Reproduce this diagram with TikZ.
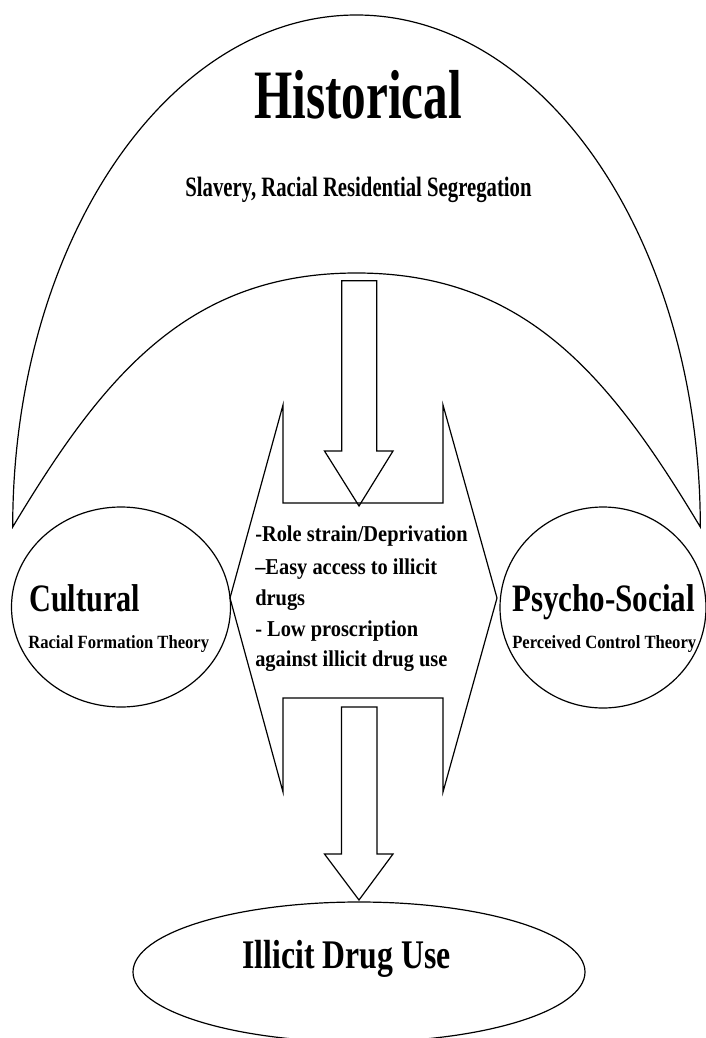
\documentclass[tikz,border=0pt]{standalone}
\usepackage{fontspec}
\setmainfont{Liberation Serif}
\usepackage{graphicx}
\usetikzlibrary{shapes.geometric}
\newcommand\sqtext[3]{{\fontsize{#1}{#1}\selectfont\scalebox{#2}[1]{#3}}}
\tikzset{
  outline/.style={draw=black, line width=0.9pt, line join=miter},
  circ/.style={draw=black, ellipse, inner sep=0pt, line width=0.9pt},
  txt/.style={inner sep=0pt, font=\bfseries, text=black},
}
\begin{document}
\begin{tikzpicture}[x=0.75pt,y=0.75pt]
\useasboundingbox (0,0) rectangle (706,-1038);
% historical block arc
\draw[outline] (12.7,-527) arc[start angle=180,end angle=0,x radius=343.8,y radius=512]
  .. controls (610.3,-377) and (526,-273) .. (356.5,-273)
  .. controls (187,-273) and (102.7,-377) .. (12.7,-527) -- cycle;
% side circles
\node[circ, minimum width=164.25pt, minimum height=150pt] (cultural) at (121,-607) {};
\node[circ, minimum width=154.5pt, minimum height=150.75pt] (psycho) at (603,-607.5) {};
% central shape
\draw[outline] (283,-405) -- (283,-503) -- (443,-503) -- (443,-405) -- (497,-598)
  -- (443,-792) -- (443,-698) -- (283,-698) -- (283,-792) -- (230,-598) -- cycle;
% top block arrow
\draw[outline] (341.7,-280.7) -- (376.7,-280.7) -- (376.7,-451) -- (393,-451)
  -- (359,-506) -- (324.5,-451) -- (341.7,-451) -- cycle;
% bottom block arrow
\draw[outline] (341.5,-707) -- (377,-707) -- (377,-854) -- (393,-854)
  -- (359,-900) -- (324.5,-854) -- (341.5,-854) -- cycle;
% outcome ellipse
\node[circ, minimum width=339pt, minimum height=105pt] (drug) at (359,-972) {};
% texts
\node[txt, anchor=base] (hist) at (358,-118.3) {\sqtext{52}{0.71}{Historical}};
\node[txt, anchor=base] (slav) at (358.5,-196.7) {\sqtext{21}{0.74}{Slavery, Racial Residential Segregation}};
\node[txt, anchor=base west] (cult) at (29,-611.7) {\sqtext{29.1}{0.78}{Cultural}};
\node[txt, anchor=base west] (rft) at (28,-648.3) {\sqtext{14}{0.89}{Racial Formation Theory}};
\node[txt, anchor=base west] (psy) at (512,-611.7) {\sqtext{29.1}{0.80}{Psycho-Social}};
\node[txt, anchor=base west] (pct) at (512,-648.3) {\sqtext{14}{0.89}{Perceived Control Theory}};
\node[txt, anchor=base west] (l1) at (255,-541.7) {\sqtext{17}{0.90}{-Role strain/Deprivation}};
\node[txt, anchor=base west] (l2) at (255,-574) {\sqtext{17}{0.90}{–Easy access to illicit}};
\node[txt, anchor=base west] (l3) at (255,-605) {\sqtext{17}{0.90}{drugs}};
\node[txt, anchor=base west] (l4) at (255,-636.7) {\sqtext{17}{0.90}{- Low proscription}};
\node[txt, anchor=base west] (l5) at (255,-666.7) {\sqtext{17}{0.90}{against illicit drug use}};
\node[txt, anchor=base] (idu) at (346.5,-968) {\sqtext{30.5}{0.78}{Illicit Drug Use}};
\end{tikzpicture}
\end{document}
